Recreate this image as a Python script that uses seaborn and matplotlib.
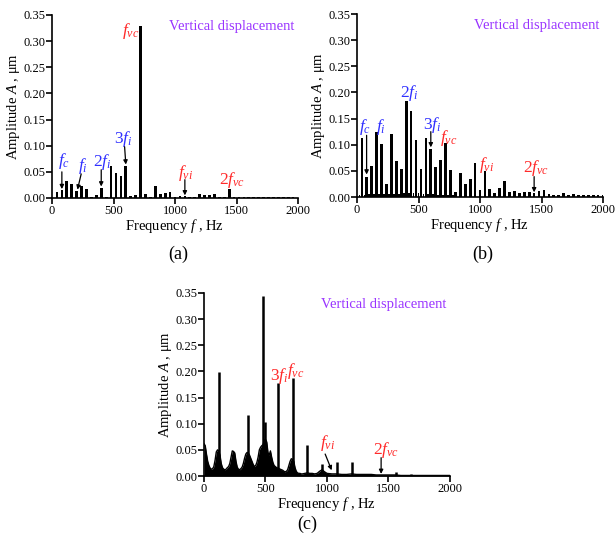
import matplotlib
matplotlib.use("Agg")
import matplotlib.pyplot as plt
import numpy as np
import pandas as pd
import seaborn as sns

# ---------------- data ----------------
x_ticks = [0, 500, 1000, 1500, 2000]
y_ticks = [0.00, 0.05, 0.10, 0.15, 0.20, 0.25, 0.30, 0.35]

# panel (a): discrete spectrum, 40 Hz spacing
a_freq = [40, 80, 120, 160, 200, 240, 280, 320, 360, 400, 440, 480, 520, 560, 600,
          640, 680, 720, 760, 800, 840, 880, 920, 960, 1000, 1040, 1080, 1120, 1160,
          1200, 1240, 1280, 1320, 1360, 1400, 1440, 1480, 1520, 1560, 1600, 1640,
          1680, 1720, 1760, 1800, 1840, 1880, 1920, 1960]
a_amp = [0.011, 0.015, 0.032, 0.027, 0.013, 0.023, 0.017, 0.002, 0.006, 0.020, 0.002,
         0.062, 0.047, 0.042, 0.062, 0.004, 0.006, 0.328, 0.007, 0.002, 0.022, 0.007,
         0.009, 0.012, 0.002, 0.004, 0.003, 0.002, 0.002, 0.007, 0.005, 0.006, 0.008,
         0.002, 0.002, 0.018, 0.002, 0.001, 0.002, 0.001, 0.001, 0.001, 0.001, 0.001,
         0.001, 0.001, 0.001, 0.001, 0.001]

# panel (b): main lines (40 Hz spacing) and small in-between lines
b_freq = [40, 80, 120, 160, 200, 240, 280, 320, 360, 400, 440, 480, 520, 560, 600,
          640, 680, 720, 760, 800, 840, 880, 920, 960, 1000, 1040, 1080, 1120, 1160,
          1200, 1240, 1280, 1320, 1360, 1400, 1440, 1480, 1520, 1560, 1600, 1640,
          1680, 1720, 1760, 1800, 1840, 1880, 1920, 1960, 2000]
b_amp = [0.113, 0.039, 0.059, 0.124, 0.101, 0.024, 0.121, 0.068, 0.054, 0.183, 0.164,
         0.109, 0.054, 0.113, 0.092, 0.057, 0.071, 0.103, 0.051, 0.010, 0.045, 0.025,
         0.034, 0.066, 0.014, 0.049, 0.015, 0.007, 0.017, 0.031, 0.010, 0.011, 0.008,
         0.009, 0.009, 0.008, 0.011, 0.013, 0.006, 0.004, 0.004, 0.008, 0.003, 0.006,
         0.004, 0.004, 0.003, 0.003, 0.003, 0.003]
b_small_freq = [20, 60, 100, 140, 180, 220, 260, 300, 340, 380, 420, 460, 500, 540,
                580, 620, 660, 700, 740, 780]
b_small_amp = [0.004, 0.004, 0.005, 0.005, 0.005, 0.006, 0.006, 0.005, 0.006, 0.007,
               0.008, 0.008, 0.007, 0.006, 0.006, 0.005, 0.004, 0.004, 0.003, 0.003]

# panel (c): continuous spectrum - broadband envelope plus discrete peaks
c_env_freq = [0, 10, 20, 30, 40, 50, 60, 70, 80, 90, 100, 110, 120, 130, 140, 150,
              160, 170, 180, 190, 200, 210, 220, 230, 240, 250, 260, 270, 280, 290,
              300, 310, 320, 330, 340, 350, 360, 370, 380, 390, 400, 410, 420, 430,
              440, 450, 460, 470, 480, 490, 500, 510, 520, 530, 540, 550, 560, 570,
              580, 590, 600, 610, 620, 630, 640, 650, 660, 670, 680, 690, 700, 710,
              720, 730, 740, 750, 760, 770, 780, 790, 800, 820, 840, 860, 880, 900,
              920, 940, 960, 980, 1000, 1040, 1080, 1120, 1160, 1200, 1240, 1280,
              1320, 1360, 1400, 1440, 1480, 1520, 1560, 1600, 1640, 1680, 1720, 1760,
              1800, 1840, 1880, 1920, 1960, 2000]
c_env_amp = [0.062, 0.058, 0.042, 0.028, 0.020, 0.015, 0.013, 0.014, 0.018, 0.030,
             0.046, 0.050, 0.048, 0.040, 0.024, 0.016, 0.013, 0.012, 0.013, 0.016,
             0.018, 0.024, 0.036, 0.048, 0.047, 0.044, 0.028, 0.017, 0.013, 0.012,
             0.014, 0.017, 0.024, 0.034, 0.042, 0.045, 0.044, 0.040, 0.034, 0.028,
             0.022, 0.018, 0.020, 0.026, 0.036, 0.050, 0.055, 0.058, 0.060, 0.068,
             0.070, 0.065, 0.045, 0.040, 0.048, 0.036, 0.026, 0.020, 0.018, 0.016,
             0.015, 0.014, 0.013, 0.012, 0.011, 0.009, 0.008, 0.009, 0.012, 0.020,
             0.028, 0.033, 0.032, 0.028, 0.016, 0.009, 0.006, 0.005, 0.005, 0.004,
             0.004, 0.005, 0.006, 0.005, 0.005, 0.004, 0.005, 0.009, 0.012, 0.008,
             0.005, 0.004, 0.004, 0.003, 0.003, 0.004, 0.003, 0.003, 0.003, 0.003,
             0.002, 0.002, 0.002, 0.002, 0.002, 0.001, 0.001, 0.001, 0.001, 0.001,
             0.001, 0.001, 0.001, 0.001, 0.001, 0.001]
c_peak_freq = [120, 360, 480, 500, 600, 720, 840, 960, 1080, 1200, 1560, 1680]
c_peak_amp = [0.199, 0.117, 0.345, 0.104, 0.178, 0.187, 0.059, 0.022, 0.027, 0.026,
              0.007, 0.003]

# ---------------- style ----------------
sns.set_style("ticks")
plt.rcParams["font.family"] = ["Liberation Serif", "DejaVu Serif"]
plt.rcParams["mathtext.fontset"] = "custom"
plt.rcParams["mathtext.rm"] = "Liberation Serif"
plt.rcParams["mathtext.it"] = "Liberation Serif:italic"
plt.rcParams["axes.edgecolor"] = "black"
plt.rcParams["axes.linewidth"] = 1.2
plt.rcParams["xtick.color"] = "black"
plt.rcParams["ytick.color"] = "black"
plt.rcParams["text.color"] = "black"
plt.rcParams["axes.labelcolor"] = "black"

BLUE = "#3030ff"
RED = "#ff2a2a"
PURPLE = "#9933ff"
LBL = 12.5

fig = plt.figure(figsize=(6.15, 5.45), dpi=100)
ax_a = fig.add_axes([0.0846, 0.6367, 0.400, 0.3358])
ax_b = fig.add_axes([0.5805, 0.6385, 0.400, 0.3358])
ax_c = fig.add_axes([0.3317, 0.1266, 0.400, 0.3358])


def style(ax):
    ax.set_xlim(0, 2000)
    ax.set_ylim(0, 0.35)
    ax.set_xticks(x_ticks)
    ax.set_xticklabels([str(v) for v in x_ticks])
    ax.set_yticks(y_ticks)
    ax.set_yticklabels([f"{v:.2f}" for v in y_ticks])
    ax.set_xlabel("Frequency $f$ , Hz", fontsize=10.5, labelpad=0)
    ax.set_ylabel("Amplitude $A$ , μm", fontsize=10.5, labelpad=1)
    ax.tick_params(direction="out", length=4, width=1.2, labelsize=9, pad=1)
    sns.despine(ax=ax)
    ax.text(0.985, 0.935, "Vertical displacement", transform=ax.transAxes,
            ha="right", va="center", color=PURPLE, fontsize=10.5)


def arrow(ax, x0, y0, x1, y1):
    ax.annotate("", xy=(x1, y1), xytext=(x0, y0),
                arrowprops=dict(arrowstyle="-|>", color="black", lw=0.9,
                                mutation_scale=6, shrinkA=0, shrinkB=0))


def lab(ax, x, y, s, c):
    ax.text(x, y, s, ha="center", va="baseline", color=c, fontsize=LBL)


# ---- (a)
df_a = pd.DataFrame({"f": a_freq, "A": a_amp})
sns.barplot(data=df_a, x="f", y="A", native_scale=True, color="black",
            saturation=1, width=0.55, linewidth=0, ax=ax_a)
style(ax_a)
lab(ax_a, 100, 0.063, r"$f_c$", BLUE)
arrow(ax_a, 80, 0.050, 80, 0.017)
lab(ax_a, 250, 0.054, r"$f_i$", BLUE)
arrow(ax_a, 237, 0.046, 207, 0.016)
lab(ax_a, 410, 0.061, r"$\mathit{2f}_i$", BLUE)
arrow(ax_a, 400, 0.054, 400, 0.022)
lab(ax_a, 583, 0.105, r"$\mathit{3f}_i$", BLUE)
arrow(ax_a, 590, 0.098, 600, 0.064)
lab(ax_a, 640, 0.312, r"$f_{vc}$", RED)
lab(ax_a, 1090, 0.040, r"$f_{vi}$", RED)
arrow(ax_a, 1080, 0.035, 1080, 0.005)
lab(ax_a, 1463, 0.027, r"$\mathit{2f}_{vc}$", RED)

# ---- (b)
df_b = pd.DataFrame({"f": b_freq, "A": b_amp})
df_bs = pd.DataFrame({"f": b_small_freq, "A": b_small_amp})
sns.barplot(data=df_b, x="f", y="A", native_scale=True, color="black",
            saturation=1, width=0.55, linewidth=0, ax=ax_b)
sns.barplot(data=df_bs, x="f", y="A", native_scale=True, color="black",
            saturation=1, width=0.35, linewidth=0, ax=ax_b)
style(ax_b)
lab(ax_b, 69, 0.127, r"$f_c$", BLUE)
arrow(ax_b, 78, 0.118, 78, 0.043)
lab(ax_b, 191, 0.127, r"$f_i$", BLUE)
lab(ax_b, 421, 0.191, r"$\mathit{2f}_i$", BLUE)
lab(ax_b, 611, 0.130, r"$\mathit{3f}_i$", BLUE)
arrow(ax_b, 600, 0.125, 600, 0.095)
lab(ax_b, 747, 0.105, r"$f_{vc}$", RED)
lab(ax_b, 1051, 0.054, r"$f_{vi}$", RED)
lab(ax_b, 1458, 0.048, r"$\mathit{2f}_{vc}$", RED)
arrow(ax_b, 1440, 0.039, 1440, 0.009)

# ---- (c)
df_c = pd.DataFrame({"f": c_env_freq, "A": c_env_amp})
sns.lineplot(data=df_c, x="f", y="A", color="black", lw=1.0, ax=ax_c)
ax_c.fill_between(c_env_freq, 0, c_env_amp, color="black", lw=0)
ax_c.vlines(c_peak_freq, 0, c_peak_amp, color="black", lw=1.8)
style(ax_c)
lab(ax_c, 615, 0.183, r"$\mathit{3f}_i$", RED)
lab(ax_c, 745, 0.193, r"$f_{vc}$", RED)
lab(ax_c, 1004, 0.056, r"$f_{vi}$", RED)
arrow(ax_c, 985, 0.042, 1038, 0.011)
lab(ax_c, 1478, 0.043, r"$\mathit{2f}_{vc}$", RED)
arrow(ax_c, 1440, 0.035, 1440, 0.004)

# panel captions
fig.text(178 / 615, 1 - 254 / 545, "(a)", ha="center", va="center", fontsize=13)
fig.text(483 / 615, 1 - 254 / 545, "(b)", ha="center", va="center", fontsize=13)
fig.text(307 / 615, 1 - 524 / 545, "(c)", ha="center", va="center", fontsize=13)

fig.savefig("out.png", dpi=100)
